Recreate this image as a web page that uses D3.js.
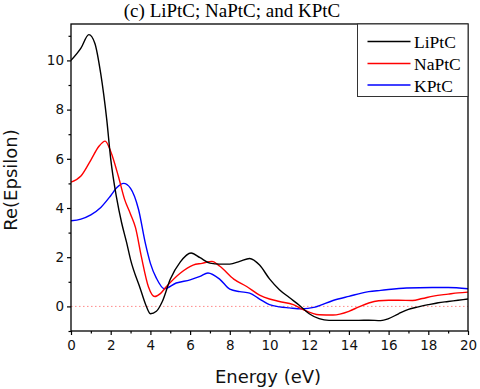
<!DOCTYPE html>
<html>
<head>
<meta charset="utf-8">
<script src="https://cdn.jsdelivr.net/npm/d3@7/dist/d3.min.js"></script>
<style>
  html, body { margin: 0; padding: 0; background: #fff; }
  svg { display: block; }
</style>
</head>
<body>
<svg id="chart" width="480" height="389"></svg>
<script>
// ---- data ----
const seriesNames = ["LiPtC", "NaPtC", "KPtC"];
const seriesColors = ["#000000", "#ff0000", "#0000ff"];

const liEnergy = [0, 0.5, 0.9, 1.2, 1.5, 1.8, 2.0, 2.3, 2.55, 2.8, 3.0, 3.5, 3.75, 4.0, 4.3, 4.6, 5.0, 5.5, 6.05, 6.5, 7.0, 7.5, 8.0, 8.5, 9.0, 9.5, 10.0, 10.5, 11.0, 11.5, 12.0, 12.5, 13.0, 13.5, 14.0, 14.5, 15.0, 15.6, 16.0, 16.5, 17.0, 17.5, 18.0, 18.5, 19.0, 19.5, 20.0];
const liValues = [10.0, 10.5, 11.05, 10.7, 9.45, 7.6, 6.0, 4.4, 3.4, 2.6, 1.9, 0.7, 0.1, -0.3, -0.2, 0.2, 1.1, 1.8, 2.17, 1.98, 1.76, 1.72, 1.72, 1.83, 1.95, 1.68, 1.12, 0.68, 0.36, 0.05, -0.3, -0.5, -0.57, -0.57, -0.57, -0.57, -0.56, -0.58, -0.5, -0.3, -0.12, -0.02, 0.07, 0.15, 0.2, 0.25, 0.3];

const naEnergy = [0, 0.5, 1.0, 1.4, 1.72, 2.0, 2.4, 2.7, 3.0, 3.25, 3.55, 3.9, 4.22, 4.5, 4.8, 5.5, 6.15, 6.6, 7.1, 7.5, 8.2, 8.85, 9.5, 10.0, 10.5, 11.2, 11.7, 12.5, 13.2, 14.0, 14.5, 15.0, 15.5, 16.0, 16.5, 17.2, 17.7, 18.25, 19.0, 19.5, 20.0];
const naValues = [5.05, 5.3, 5.95, 6.5, 6.72, 6.3, 5.25, 4.35, 3.75, 3.2, 2.0, 0.8, 0.4, 0.52, 0.8, 1.35, 1.68, 1.75, 1.83, 1.63, 1.11, 0.81, 0.46, 0.3, 0.2, 0.07, -0.13, -0.34, -0.35, -0.2, -0.02, 0.14, 0.23, 0.25, 0.25, 0.24, 0.32, 0.42, 0.5, 0.55, 0.58];

const kEnergy = [0, 0.5, 1.0, 1.5, 2.0, 2.3, 2.65, 3.0, 3.4, 3.75, 4.0, 4.3, 4.7, 5.3, 6.0, 6.5, 6.9, 7.5, 8.0, 8.5, 9.0, 9.5, 10.0, 10.5, 11.0, 11.6, 12.3, 13.2, 14.0, 15.0, 15.6, 16.9, 18.2, 19.0, 20.0];
const kValues = [3.48, 3.55, 3.72, 4.02, 4.5, 4.82, 5.0, 4.8, 3.95, 2.55, 1.75, 1.15, 0.72, 0.95, 1.08, 1.22, 1.36, 1.1, 0.7, 0.6, 0.54, 0.3, 0.07, -0.02, -0.06, -0.1, -0.03, 0.24, 0.41, 0.6, 0.65, 0.75, 0.77, 0.77, 0.72];

const xMajorTicks = [0, 2, 4, 6, 8, 10, 12, 14, 16, 18, 20];
const xMinorTicks = [1, 3, 5, 7, 9, 11, 13, 15, 17, 19];
const yMajorTicks = [0, 2, 4, 6, 8, 10];
const yMinorTicks = [-1, 1, 3, 5, 7, 9, 11];

const chartTitle = "(c) LiPtC; NaPtC; and KPtC";
const xTitle = "Energy (eV)";
const yTitle = "Re(Epsilon)";

// ---- layout ----
const W = 480, H = 389;
const m = { left: 71, top: 24, right: 12, bottom: 58 };
const iw = W - m.left - m.right, ih = H - m.top - m.bottom;

const svg = d3.select("#chart");
const g = svg.append("g").attr("transform", `translate(${m.left},${m.top})`);

const x = d3.scaleLinear().domain([0, 20]).range([0, iw]);
const y = d3.scaleLinear().domain([-1, 11.48]).range([ih, 0]);

// zero reference line (dotted)
g.append("line")
  .attr("x1", x(0)).attr("x2", x(20))
  .attr("y1", y(0)).attr("y2", y(0))
  .attr("stroke", "#ff8a8a").attr("stroke-width", 1)
  .attr("stroke-dasharray", "1.5,2.5");

// curves
const series = [
  { e: liEnergy, v: liValues },
  { e: naEnergy, v: naValues },
  { e: kEnergy, v: kValues }
];
const line = d3.line().x(d => x(d[0])).y(d => y(d[1])).curve(d3.curveMonotoneX);
const clip = svg.append("defs").append("clipPath").attr("id", "clip")
  .append("rect").attr("width", iw).attr("height", ih);
const plot = g.append("g").attr("clip-path", "url(#clip)");
[2, 1, 0].forEach(i => {
  const s = series[i];
  plot.append("path")
    .datum(s.e.map((e, j) => [e, s.v[j]]))
    .attr("d", line)
    .attr("fill", "none")
    .attr("stroke", seriesColors[i])
    .attr("stroke-width", 1.4)
    .attr("stroke-linejoin", "round");
});

// axes
const tickFont = "DejaVu Sans, sans-serif";
const xAxis = g.append("g").attr("transform", `translate(0,${ih})`)
  .call(d3.axisBottom(x).tickValues(xMajorTicks).tickSize(4).tickPadding(5).tickFormat(d3.format("d")));
const xMinor = g.append("g").attr("transform", `translate(0,${ih})`)
  .call(d3.axisBottom(x).tickValues(xMinorTicks).tickSize(2.5).tickFormat(""));
const yAxis = g.append("g")
  .call(d3.axisLeft(y).tickValues(yMajorTicks).tickSize(4).tickPadding(3).tickFormat(d3.format("d")));
const yMinor = g.append("g")
  .call(d3.axisLeft(y).tickValues(yMinorTicks).tickSize(2.5).tickFormat(""));

[xAxis, xMinor, yAxis, yMinor].forEach(a => {
  a.select(".domain").remove();
  a.selectAll(".tick line").attr("stroke", "#000").attr("stroke-width", 1.2);
  a.selectAll(".tick text").attr("fill", "#111").attr("font-family", tickFont).attr("font-size", 13.5);
});

// frame
g.append("rect").attr("x", 0).attr("y", 0).attr("width", iw).attr("height", ih)
  .attr("fill", "none").attr("stroke", "#000").attr("stroke-width", 1.3);

// titles
svg.append("text").attr("x", 232).attr("y", 17)
  .attr("text-anchor", "middle")
  .attr("font-family", "Liberation Serif, Times New Roman, serif")
  .attr("font-size", 19).attr("fill", "#000").text(chartTitle);

svg.append("text").attr("x", 268).attr("y", 383)
  .attr("text-anchor", "middle")
  .attr("font-family", tickFont).attr("font-size", 18).attr("fill", "#111")
  .text(xTitle);

svg.append("text")
  .attr("transform", "translate(17,180) rotate(-90)")
  .attr("text-anchor", "middle")
  .attr("font-family", tickFont).attr("font-size", 18).attr("fill", "#111")
  .text(yTitle);

// legend
const lx = 357.5, ly = 24, lw = m.left + iw - lx, lh = 72.5;
const leg = svg.append("g");
leg.append("rect").attr("x", lx).attr("y", ly).attr("width", lw).attr("height", lh)
  .attr("fill", "#fff").attr("stroke", "#333").attr("stroke-width", 1);
const rowY = [41.5, 63.5, 85];
seriesNames.forEach((name, i) => {
  leg.append("line").attr("x1", 367.5).attr("x2", 410.5)
    .attr("y1", rowY[i]).attr("y2", rowY[i])
    .attr("stroke", seriesColors[i]).attr("stroke-width", 1.5);
  leg.append("text").attr("x", 414).attr("y", rowY[i] + 6.5)
    .attr("font-family", "Liberation Serif, Times New Roman, serif")
    .attr("font-size", 17.5).attr("fill", "#000").text(name);
});
</script>
</body>
</html>
